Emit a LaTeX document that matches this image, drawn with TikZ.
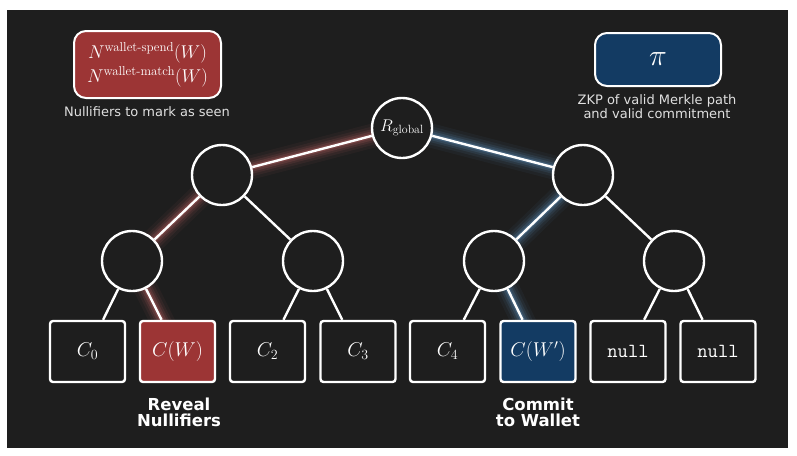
\documentclass[tikz,border=0pt]{standalone}
\usepackage{fix-cm}
\usepackage{amsmath}
\usepackage{fontspec}
\usetikzlibrary{backgrounds}
\newfontfamily\labelfont{DejaVu Sans}

\definecolor{boardbg}{HTML}{1E1E1E}
\definecolor{spendred}{HTML}{9C3535}
\definecolor{commitblue}{HTML}{133B63}
\definecolor{redglow}{HTML}{E07272}
\definecolor{blueglow}{HTML}{6AA4DA}

\tikzset{
    hashnode/.style={circle, draw=white, line width=2.4pt, fill=boardbg, minimum size=60pt, inner sep=0pt, text=white, font=\fontsize{17}{18}\selectfont},
    leafnode/.style={rectangle, rounded corners=3pt, draw=white, line width=2.4pt, fill=boardbg, minimum width=75pt, minimum height=61pt, inner sep=0pt, text=white, font=\fontsize{20}{24}\selectfont},
    treeline/.style={white, line width=2.4pt},
    caption/.style={text=white!88!black, align=center, font=\labelfont\fontsize{13}{13.5}\selectfont},
    pathnote/.style={text=white, align=center, font=\labelfont\bfseries\fontsize{16.5}{16}\selectfont},
}

\begin{document}
\begin{tikzpicture}[x=1pt, y=-1pt]
    \useasboundingbox (0,0) rectangle (797,455);

    % Merkle tree: root and inner hashes
    \node[hashnode] (root) at (402,128) {$R_{\text{global}}$};
    \node[hashnode] (l) at (222,175) {};
    \node[hashnode] (r) at (583,175) {};
    \node[hashnode] (ll) at (132,261) {};
    \node[hashnode] (lr) at (313,261) {};
    \node[hashnode] (rl) at (494,261) {};
    \node[hashnode] (rr) at (674,261) {};

    % Leaves (commitments)
    \node[leafnode] (c0) at (87.5,351.5) {$C_0$};
    \node[leafnode, fill=spendred] (cw) at (177.5,351.5) {$C(W)$};
    \node[leafnode] (c2) at (267.5,351.5) {$C_2$};
    \node[leafnode] (c3) at (358,351.5) {$C_3$};
    \node[leafnode] (c4) at (447.5,351.5) {$C_4$};
    \node[leafnode, fill=commitblue] (cwp) at (538,351.5) {$C(W')$};
    \node[leafnode] (n1) at (628,351.5) {\texttt{null}};
    \node[leafnode] (n2) at (718,351.5) {\texttt{null}};

    % Tree edges
    \foreach \a/\b in {root/l, root/r, l/ll, l/lr, r/rl, r/rr, ll/c0, ll/cw, lr/c2, lr/c3, rl/c4, rl/cwp, rr/n1, rr/n2}
        \draw[treeline] (\a) -- (\b);

    % Nullifier box
    \node[rounded corners=12pt, draw=white, line width=2pt, fill=spendred, minimum width=147pt, minimum height=67pt, text=white, align=center, font=\fontsize{18.5}{24}\selectfont] (nullbox) at (147.5,64.5)
        {$N^{\text{wallet-spend}}(W)$\\$N^{\text{wallet-match}}(W)$};
    \node[caption] (nullnote) at (147,112) {Nullifiers to mark as seen};

    % Proof box
    \node[rounded corners=12pt, draw=white, line width=2pt, fill=commitblue, minimum width=126pt, minimum height=53pt, text=white, font=\fontsize{30}{32}\selectfont] (proofbox) at (658,59.5) {$\pi$};
    \node[caption] (proofnote) at (657,106.5) {ZKP of valid Merkle path\\and valid commitment};

    % Path labels
    \node[pathnote] (reveal) at (179,412) {Reveal\\Nullifiers};
    \node[pathnote] (commit) at (538,412) {Commit\\to Wallet};

    % Board and glowing paths
    \begin{scope}[on background layer]
        \fill[white] (0,0) rectangle (797,455);
        \fill[boardbg] (7,10) rectangle (788,448);
        \foreach \w/\o in {24/0.05, 18/0.07, 13/0.1, 9/0.14, 5/0.22} {
            \draw[redglow, line width=\w pt, opacity=\o, line join=round] (root.center) -- (l.center) -- (ll.center) -- (cw.center);
            \draw[blueglow, line width=\w pt, opacity=\o, line join=round] (root.center) -- (r.center) -- (rl.center) -- (cwp.center);
        }
    \end{scope}
\end{tikzpicture}
\end{document}
